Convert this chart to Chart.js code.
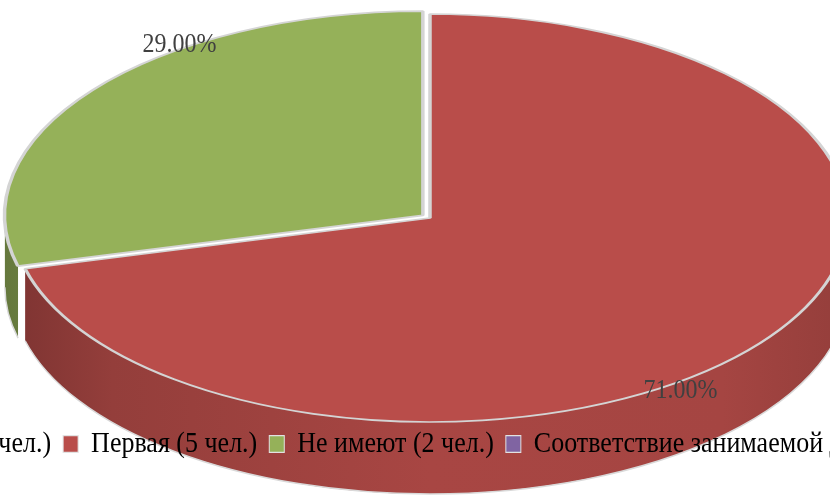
<!DOCTYPE html>
<html>
<head>
<meta charset="utf-8">
<script src="https://cdn.jsdelivr.net/npm/chart.js@4/dist/chart.umd.min.js"></script>
<style>
  html, body { margin: 0; padding: 0; background: #fff; overflow: hidden; width: 830px; height: 495px; }
  /* the original is a crop of a wider chart: canvas is wider than the window */
  #wrap { position: absolute; left: -220px; top: 0; width: 1300px; height: 495px; }
</style>
</head>
<body>
<div id="wrap"><canvas id="pie" width="1300" height="495"></canvas></div>
<script>
// данные
const CATEGORIES = ['Высшая (0 чел.)', 'Первая (5 чел.)', 'Не имеют (2 чел.)', 'Соответствие занимаемой должности (0 чел.)'];
const SHARES = [0, 71, 29, 0];
const COLORS = ['#4F81BD', '#B94D4A', '#95B159', '#8064A2'];

// вид "3D"
const TILT = 0.488;      // сжатие по вертикали
const DEPTH = 72;        // толщина диска
const RADIUS = 418;
const LABEL_TURN = 17 * Math.PI / 180;
const TEXT_STRETCH = 1.12; // текст в оригинале немного вытянут по вертикали
const LEGEND_SHIFT = 12;
const SERIF = '"Liberation Serif", "Times New Roman", serif';

function shade(hex, f) {
  const n = parseInt(hex.slice(1), 16);
  const c = s => Math.min(255, Math.round(((n >> s) & 255) * f));
  return `rgb(${c(16)},${c(8)},${c(0)})`;
}

const pie3d = {
  id: 'pie3d',
  beforeDatasetsDraw(chart) {
    const ctx = chart.ctx;
    const lg = chart.legend;
    // легенду рисуем позже, поверх диска
    ctx.clearRect(lg.left, lg.top, lg.width, lg.height);
    const arcs = chart.getDatasetMeta(0).data;
    const cy0 = arcs[0].y;
    // боковая стенка (видна только передняя половина)
    ctx.save();
    arcs.forEach((arc, i) => {
      const { x, startAngle, endAngle, outerRadius: r } = arc;
      if (endAngle - startAngle <= 0) return;
      const mid = (startAngle + endAngle) / 2;
      const off = (arc.options.offset || 0) / 4;
      const cx = x + Math.cos(mid) * off;
      const cy = cy0 + Math.sin(mid) * off * TILT;
      const a0 = Math.max(startAngle, 0), a1 = Math.min(endAngle, Math.PI);
      if (a1 <= a0) return;
      const g = ctx.createLinearGradient(cx - r, 0, cx + r, 0);
      g.addColorStop(0, shade(COLORS[i], 0.68));
      g.addColorStop(0.12, shade(COLORS[i], 0.8));
      g.addColorStop(0.5, shade(COLORS[i], 0.91));
      g.addColorStop(0.85, shade(COLORS[i], 0.89));
      g.addColorStop(1, shade(COLORS[i], 0.8));
      ctx.beginPath();
      ctx.ellipse(cx, cy, r, r * TILT, 0, a0, a1);
      ctx.ellipse(cx, cy + DEPTH, r, r * TILT, 0, a1, a0, true);
      ctx.closePath();
      ctx.fillStyle = g;
      ctx.fill();
      ctx.beginPath();
      ctx.ellipse(cx, cy + DEPTH, r, r * TILT, 0, a0, a1);
      ctx.strokeStyle = '#d9d9d9';
      ctx.lineWidth = 1.5;
      ctx.stroke();
    });
    ctx.restore();
    // верх диска: сжимаем круг в эллипс
    ctx.save();
    ctx.translate(0, cy0);
    ctx.scale(1, TILT);
    ctx.translate(0, -cy0);
  },
  afterDatasetsDraw(chart) {
    const ctx = chart.ctx;
    ctx.restore();
    const arcs = chart.getDatasetMeta(0).data;
    const cy0 = arcs[0].y;
    ctx.save();
    ctx.font = '24px ' + SERIF;
    ctx.fillStyle = '#404040';
    ctx.textAlign = 'center';
    ctx.textBaseline = 'middle';
    arcs.forEach((arc, i) => {
      if (!SHARES[i]) return;
      const mid = (arc.startAngle + arc.endAngle) / 2 + LABEL_TURN;
      const r = arc.outerRadius * 1.04;
      const lx = arc.x + Math.cos(mid) * r;
      const ly = cy0 + Math.sin(mid) * r * TILT;
      ctx.save();
      ctx.translate(lx, ly);
      ctx.scale(1, TEXT_STRETCH);
      ctx.fillText(SHARES[i].toFixed(2) + '%', 0, 0);
      ctx.restore();
    });
    ctx.restore();
    // легенда поверх диска
    const lg = chart.legend;
    const midY = lg.top + lg.options.labels.padding + lg.options.labels.font.size / 2;
    ctx.save();
    ctx.translate(LEGEND_SHIFT, midY);
    ctx.scale(1, TEXT_STRETCH);
    ctx.translate(0, -midY);
    lg.draw();
    ctx.restore();
  }
};

const baseLabels = Chart.overrides.doughnut.plugins.legend.labels.generateLabels;

new Chart(document.getElementById('pie'), {
  type: 'pie',
  data: {
    labels: CATEGORIES,
    datasets: [{
      data: SHARES,
      backgroundColor: COLORS,
      borderColor: '#d4d4d4',
      borderWidth: 3.5,
      offset: c => c.dataIndex === 2 ? 36 : 0,
      clip: false
    }]
  },
  options: {
    responsive: false,
    devicePixelRatio: 1,
    animation: false,
    events: [],
    radius: RADIUS,
    layout: { padding: { top: 17, bottom: 28, left: 0, right: 0 } },
    plugins: {
      legend: {
        position: 'bottom',
        labels: {
          color: '#000',
          font: { family: SERIF, size: 26 },
          boxWidth: 15,
          boxHeight: 15,
          padding: 12,
          generateLabels: chart => baseLabels(chart).map(l => ({ ...l, strokeStyle: '#e2e2e2', lineWidth: 1 }))
        }
      },
      tooltip: { enabled: false }
    }
  },
  plugins: [pie3d]
});
</script>
</body>
</html>
